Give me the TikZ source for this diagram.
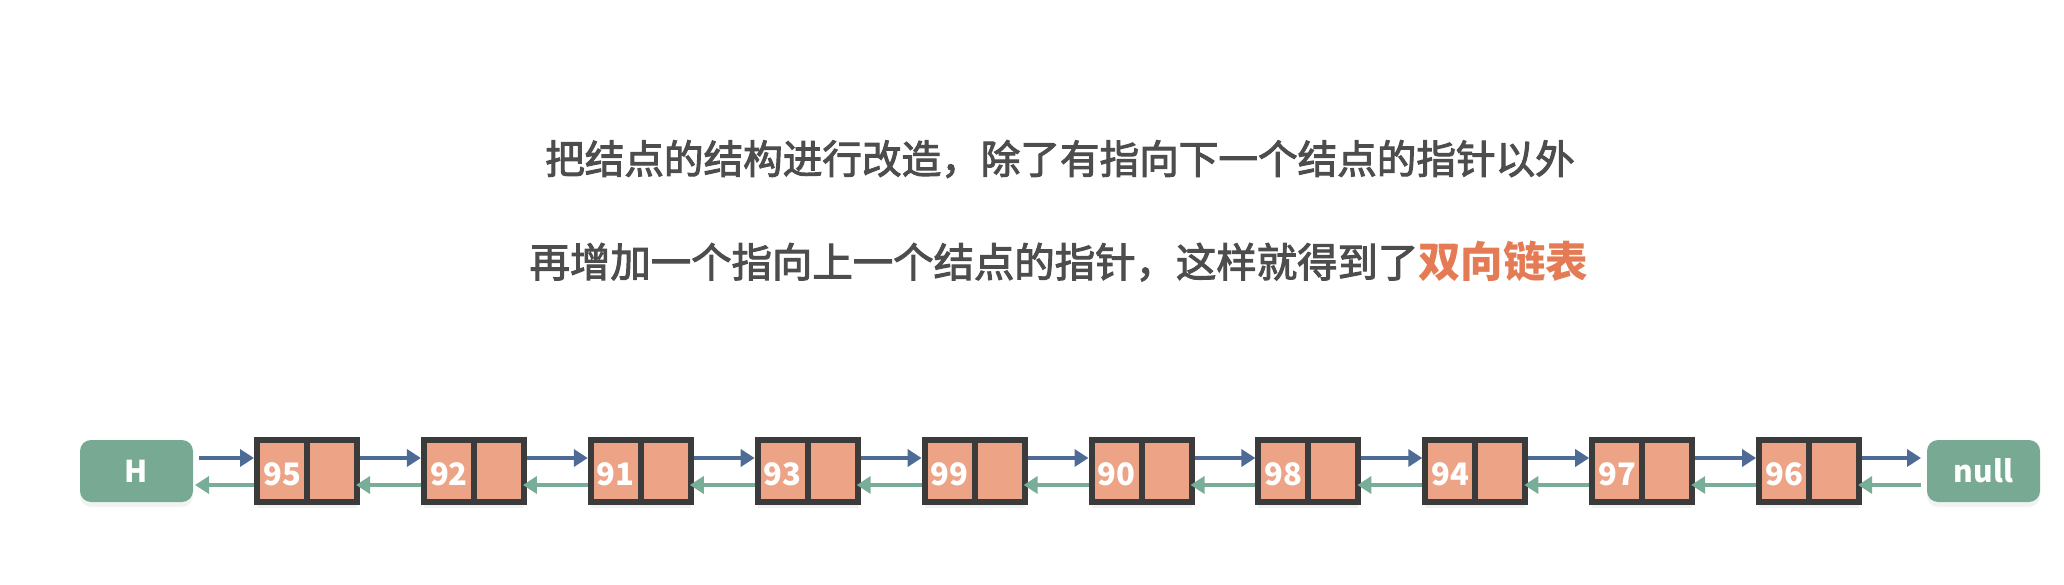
\documentclass[tikz,border=0pt]{standalone}
\usepackage{fontspec}
\setmainfont{Noto Sans CJK SC}
\newfontfamily\titlefont{Noto Sans CJK SC}[FakeBold=2.5]
\usetikzlibrary{arrows.meta,shadows}
\definecolor{nodesalmon}{RGB}{237, 163, 134}
\definecolor{nodeborder}{RGB}{59, 59, 59}
\definecolor{endgreen}{RGB}{120, 169, 147}
\definecolor{nextblue}{RGB}{78, 107, 150}
\definecolor{prevgreen}{RGB}{120, 173, 151}
\definecolor{titlegrey}{RGB}{77, 77, 77}
\definecolor{titleorange}{RGB}{228, 123, 84}
\tikzstyle{listnode} = [
  rectangle,
  draw=nodeborder,
  fill=nodesalmon,
  line width=6pt,
  minimum width=100pt,
  minimum height=62pt,
  inner sep=0pt,
  drop shadow={shadow xshift=0pt, shadow yshift=-6pt, opacity=.1},
]
\tikzstyle{endnode} = [
  rectangle,
  rounded corners=11pt,
  fill=endgreen,
  minimum width=113pt,
  minimum height=62pt,
  outer sep=6pt,
  text=white,
  font=\bfseries\fontsize{30}{36}\selectfont,
  drop shadow={shadow xshift=0pt, shadow yshift=-5pt, opacity=.1},
]
\tikzstyle{numlabel} = [
  inner sep=0pt,
  text=white,
  font=\bfseries\fontsize{31}{36}\selectfont,
]
\tikzstyle{nextptr} = [nextblue, line width=4.5pt, -{Triangle[length=14pt, width=17pt]}]
\tikzstyle{prevptr} = [prevgreen, line width=4.5pt, -{Triangle[length=14pt, width=17pt]}, shorten >=-4pt]

\begin{document}
\begin{tikzpicture}[x=1pt, y=-1pt]
            \useasboundingbox (0,0) rectangle (2064,584);
            \def\pitch{166.9}

            % Text
            \node[font=\titlefont\fontsize{39.6}{48}\selectfont, text=titlegrey] (line1) at (1060,159)
              {把结点的结构进行改造，除了有指向下一个结点的指针以外};
            \node[font=\titlefont\fontsize{40.4}{50}\selectfont, text=titlegrey] (line2) at (1059,261)
              {再增加一个指向上一个结点的指针，这样就得到了{\normalfont\bfseries\fontsize{42.5}{50}\selectfont\color{titleorange}双向链表}};

            % Head and tail
            \node[endnode] (head) at (136.5,471) {H};
            \node[endnode] (null) at (1983.5,471) {null};

            % List nodes
            \foreach \i/\v in {1/95,2/92,3/91,4/93,5/99,6/90,7/98,8/94,9/97,10/96} {
              \node[listnode] (n\i) at ({307 + (\i - 1) * \pitch}, 471) {};
              \draw[nodeborder, line width=6pt] (n\i.north) -- (n\i.south);
              \node[numlabel] (l\i) at ([xshift=-25pt, yshift=-3pt]n\i.center) {\v};
            }

            % Pointers
            \foreach \a/\b in {head/n1,n1/n2,n2/n3,n3/n4,n4/n5,n5/n6,n6/n7,n7/n8,n8/n9,n9/n10,n10/null} {
              \draw[nextptr] ([yshift=13pt]\a.east) -- ([yshift=13pt]\b.west);
              \draw[prevptr] ([yshift=-14pt]\b.west) -- ([yshift=-14pt]\a.east);
            }
          \end{tikzpicture}
\end{document}
